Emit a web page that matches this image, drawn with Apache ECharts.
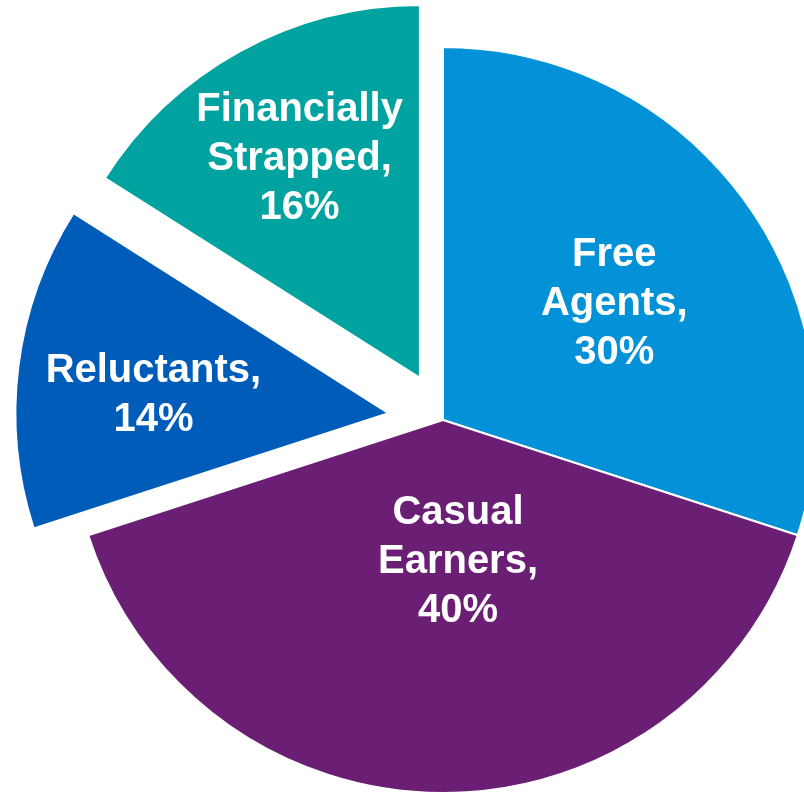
<!DOCTYPE html>
<html>
<head>
<meta charset="utf-8">
<script src="https://cdn.jsdelivr.net/npm/echarts@6/dist/echarts.min.js"></script>
<style>html,body{margin:0;padding:0;background:#fff}#c{width:804px;height:793px}</style>
</head>
<body>
<div id="c"></div>
<script>
const categories = ['Free Agents', 'Casual Earners', 'Reluctants', 'Financially Strapped'];
const shares = [30, 40, 14, 16];
const colors = ['#0391D8', '#6B1F74', '#005CB9', '#00A3A0'];
// label nudges (style only), px
const labelShift = [[18, -5], [15, -48], [-47, 6], [-29, -53]];

function labelText(p) {
  return p.name.replace(' ', '\n') + ',\n' + p.value + '%';
}

function buildData(visibleIdx, selectedIdx) {
  return categories.map((name, i) => {
    const vis = visibleIdx.indexOf(i) >= 0;
    return {
      name: name,
      value: shares[i],
      selected: selectedIdx.indexOf(i) >= 0,
      itemStyle: vis ? { color: colors[i], borderColor: '#fff', borderWidth: 2 }
                     : { color: 'rgba(0,0,0,0)', borderWidth: 0 },
      label: { show: vis }
    };
  });
}

const common = {
  type: 'pie',
  center: [443, 420],
  radius: 373,
  startAngle: 90,
  clockwise: true,
  selectedMode: 'multiple',
  avoidLabelOverlap: false,
  silent: true,
  emphasis: { disabled: true },
  labelLine: { show: false },
  label: {
    position: 'inside',
    formatter: labelText,
    color: '#fff',
    fontFamily: 'Liberation Sans, Arial, sans-serif',
    fontWeight: 'bold',
    fontSize: 40,
    lineHeight: 49,
    align: 'center'
  },
  labelLayout: function (p) {
    const s = labelShift[p.dataIndex];
    return { dx: s[0], dy: s[1] };
  }
};

const chart = echarts.init(document.getElementById('c'), null, { renderer: 'canvas' });
chart.setOption({
  animation: false,
  series: [
    Object.assign({}, common, { selectedOffset: 0, data: buildData([0, 1], []) }),
    Object.assign({}, common, { selectedOffset: 55, data: buildData([2], [2]) }),
    Object.assign({}, common, { selectedOffset: 48, data: buildData([3], [3]) })
  ]
});
</script>
</body>
</html>
